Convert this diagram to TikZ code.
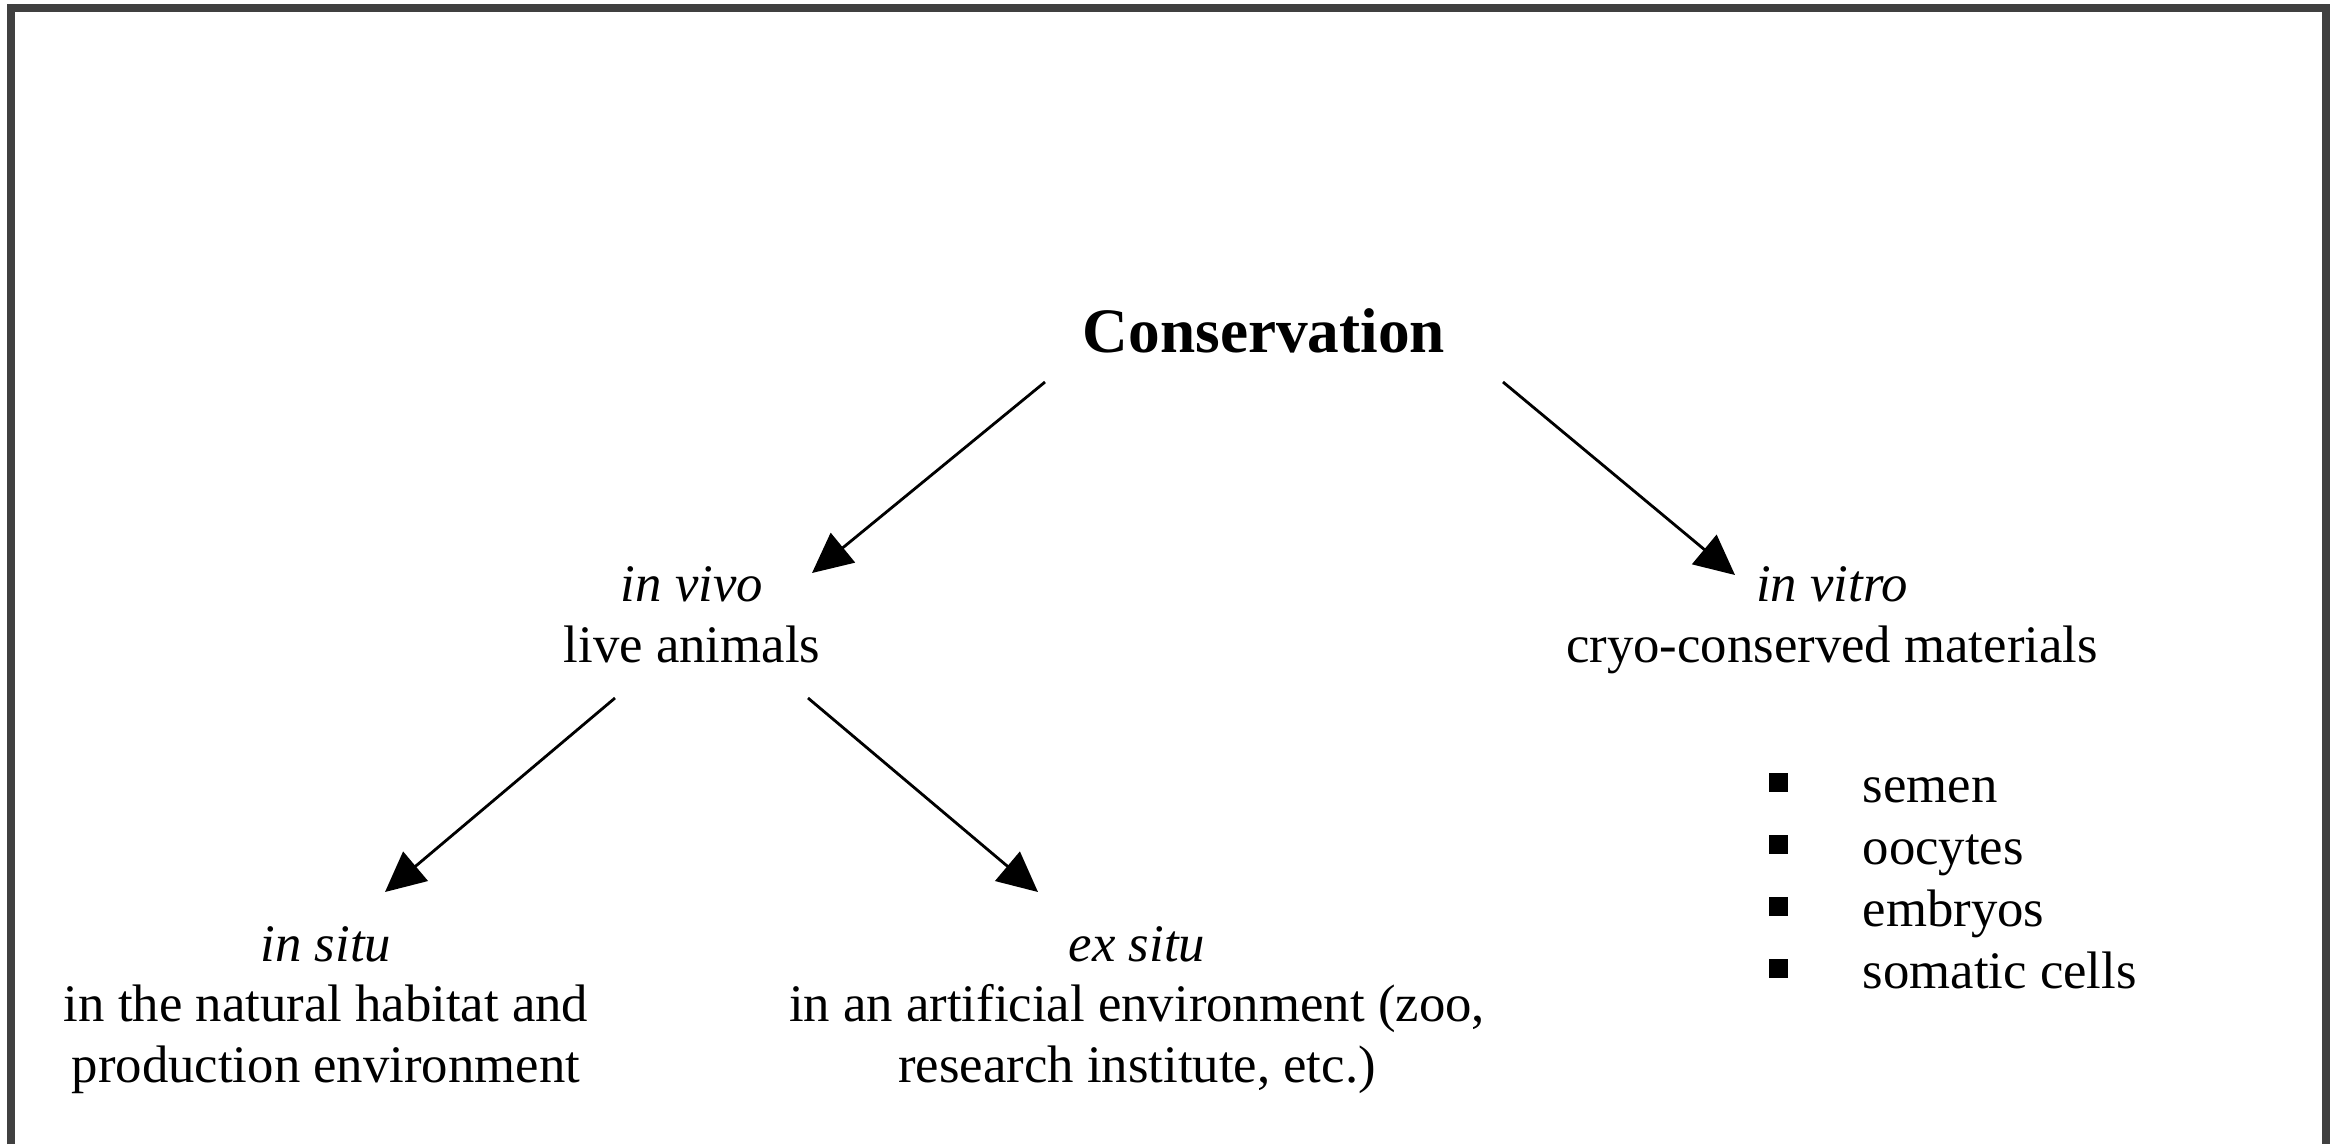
\documentclass[tikz,border=0pt]{standalone}
\usepackage{fontspec}
\setmainfont{Liberation Serif}
\usetikzlibrary{arrows.meta,calc}

\begin{document}
\begin{tikzpicture}[x=0.01cm,y=-0.01cm,
  txt/.style={align=center,anchor=base,inner sep=0pt,font=\fontsize{15}{17.2}\selectfont},
  head/.style={anchor=base,inner sep=0pt,font=\fontsize{18}{21}\selectfont\bfseries},
  branch/.style={line width=0.8pt,-{Triangle[length=0.4cm,width=0.38cm]}},
  bullet/.style={fill=black,minimum size=0.19cm,inner sep=0pt},
  frame/.style={line width=0.08cm,draw=black!75}]

  \useasboundingbox (0,0) rectangle (2338,1144);

  % Frame, open at the bottom
  \draw [frame] (11,1144) -- (11,8) -- (2326,8) -- (2326,1144);

  \node [head] (cons) at (1264,352) {Conservation};
  \node [txt] (vivo) at (692,662) {\textit{in vivo}\\live animals};
  \node [txt] (vitro) at (1832,662) {\textit{in vitro}\\cryo-conserved materials};
  \node [txt] (situ) at (326,1082) {\textit{in situ}\\in the natural habitat and\\production environment};
  \node [txt] (exsitu) at (1137,1082) {\textit{ex situ}\\in an artificial environment (zoo,\\research institute, etc.)};

  % Cryo-conserved materials
  \foreach \name [count=\i] in {semen,oocytes,embryos,somatic cells} {
    \node [bullet] (b\i) at (1778,{782+62*(\i-1)}) {};
    \node [txt,anchor=base west] (m\i) at (1862,{802+62*(\i-1)}) {\name};
  }

  % Draw arrows between levels
  \draw [branch] ($(cons.base)+(-219,30)$) -- ($(vivo.base)+(120,-89)$);
  \draw [branch] ($(cons.base)+(239,30)$) -- ($(vitro.base)+(-97,-87)$);
  \draw [branch] ($(vivo.base)+(-77,36)$) -- ($(situ.base)+(59,-190)$);
  \draw [branch] ($(vivo.base)+(116,36)$) -- ($(exsitu.base)+(-99,-190)$);

\end{tikzpicture}
\end{document}
